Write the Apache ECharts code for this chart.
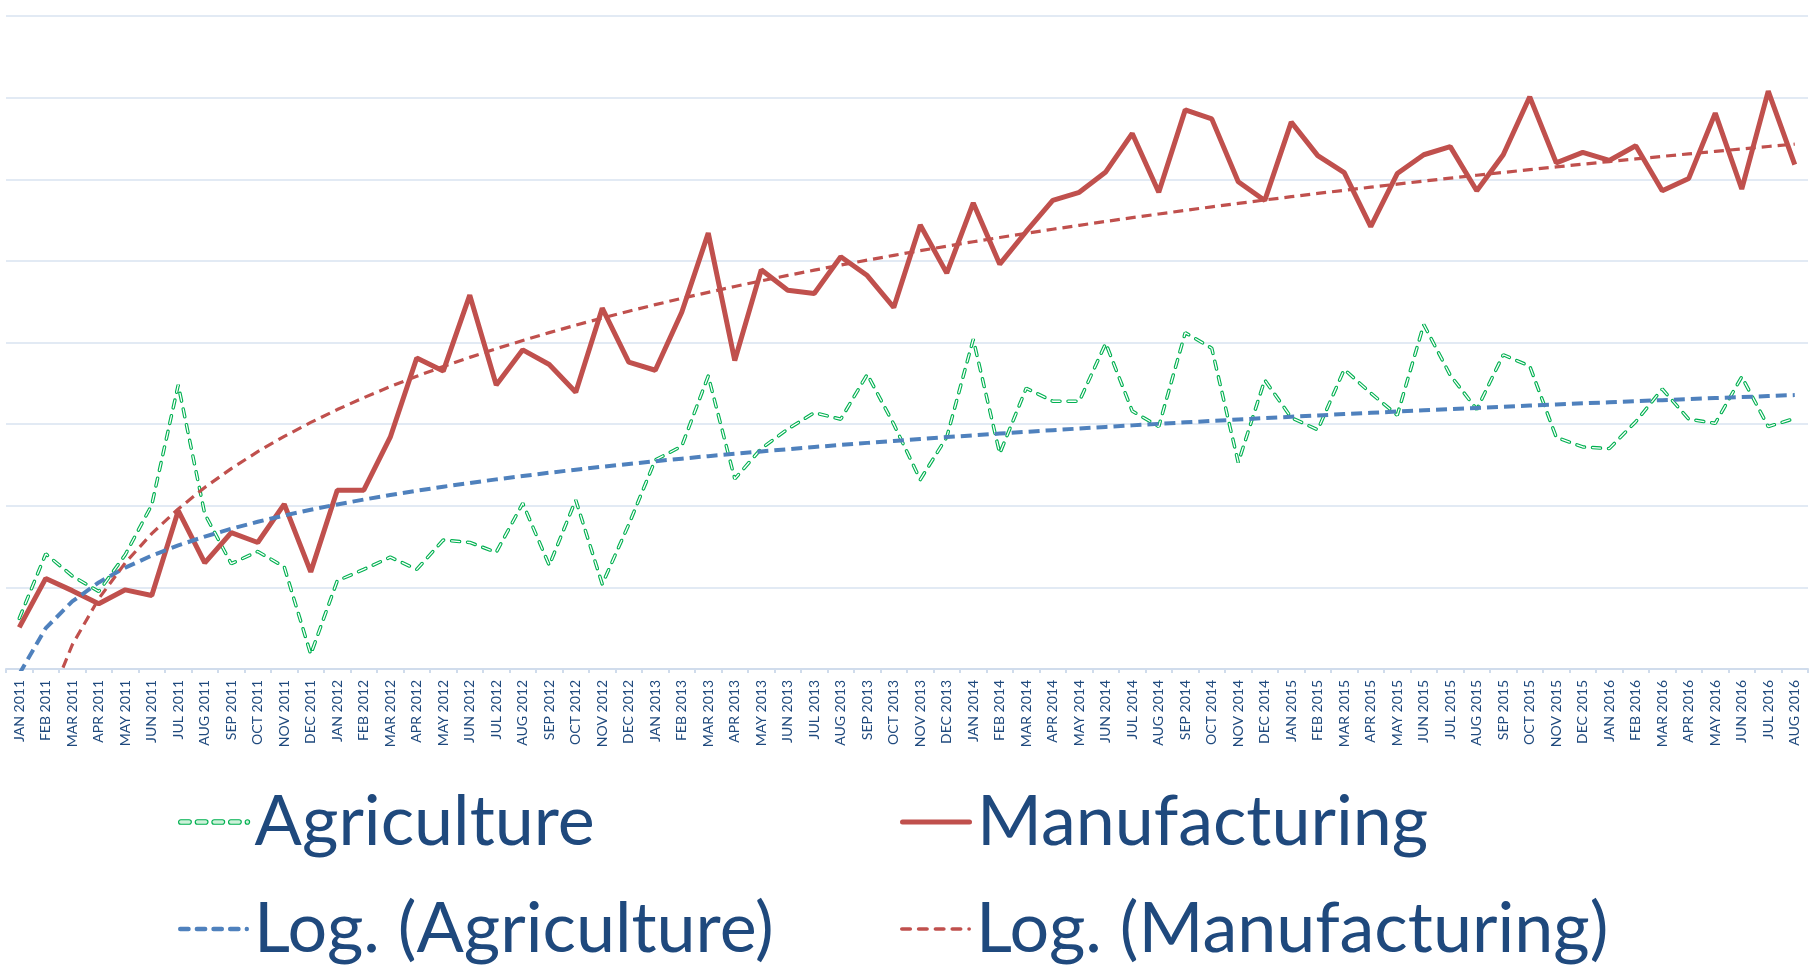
<!DOCTYPE html>
<html>
<head>
<meta charset="utf-8">
<script src="https://cdn.jsdelivr.net/npm/echarts/dist/echarts.min.js"></script>
<style>
  html, body { margin: 0; padding: 0; background: #ffffff; }
  #chart { width: 1820px; height: 966px; }
</style>
</head>
<body>
<div id="chart"></div>
<script>
// Monthly categories, Jan 2011 – Aug 2016
const months = [
  'JAN 2011','FEB 2011','MAR 2011','APR 2011','MAY 2011','JUN 2011','JUL 2011','AUG 2011','SEP 2011','OCT 2011','NOV 2011','DEC 2011',
  'JAN 2012','FEB 2012','MAR 2012','APR 2012','MAY 2012','JUN 2012','JUL 2012','AUG 2012','SEP 2012','OCT 2012','NOV 2012','DEC 2012',
  'JAN 2013','FEB 2013','MAR 2013','APR 2013','MAY 2013','JUN 2013','JUL 2013','AUG 2013','SEP 2013','OCT 2013','NOV 2013','DEC 2013',
  'JAN 2014','FEB 2014','MAR 2014','APR 2014','MAY 2014','JUN 2014','JUL 2014','AUG 2014','SEP 2014','OCT 2014','NOV 2014','DEC 2014',
  'JAN 2015','FEB 2015','MAR 2015','APR 2015','MAY 2015','JUN 2015','JUL 2015','AUG 2015','SEP 2015','OCT 2015','NOV 2015','DEC 2015',
  'JAN 2016','FEB 2016','MAR 2016','APR 2016','MAY 2016','JUN 2016','JUL 2016','AUG 2016'
];

const agriculture = [
  0.62, 1.41, 1.14, 0.95, 1.40, 2.01, 3.48, 1.90, 1.29, 1.44, 1.25, 0.18,
  1.08, 1.22, 1.37, 1.22, 1.58, 1.55, 1.43, 2.03, 1.27, 2.07, 1.04, 1.77,
  2.56, 2.73, 3.59, 2.33, 2.70, 2.94, 3.14, 3.06, 3.61, 3.00, 2.32, 2.84,
  4.04, 2.64, 3.44, 3.28, 3.28, 3.99, 3.16, 2.97, 4.12, 3.93, 2.53, 3.54,
  3.08, 2.93, 3.67, 3.38, 3.11, 4.22, 3.60, 3.18, 3.85, 3.71, 2.84, 2.72,
  2.70, 3.03, 3.43, 3.06, 3.01, 3.58, 2.97, 3.07
];

const manufacturing = [
  0.51, 1.11, 0.96, 0.80, 0.97, 0.90, 1.94, 1.30, 1.67, 1.55, 2.02, 1.19,
  2.19, 2.19, 2.84, 3.81, 3.65, 4.58, 3.48, 3.91, 3.73, 3.39, 4.42, 3.76,
  3.66, 4.37, 5.34, 3.78, 4.89, 4.64, 4.60, 5.05, 4.82, 4.43, 5.44, 4.85,
  5.71, 4.96, 5.36, 5.74, 5.84, 6.09, 6.56, 5.84, 6.85, 6.74, 5.97, 5.74,
  6.70, 6.29, 6.08, 5.42, 6.07, 6.30, 6.40, 5.86, 6.30, 7.01, 6.20, 6.33,
  6.23, 6.41, 5.86, 6.01, 6.81, 5.88, 7.08, 6.18
];

// Logarithmic trendline: least-squares fit of y = a·ln(x) + b with x = 1..n
function logTrend(values) {
  const n = values.length;
  let sx = 0, sy = 0, sxx = 0, sxy = 0;
  values.forEach((y, i) => {
    const x = Math.log(i + 1);
    sx += x; sy += y; sxx += x * x; sxy += x * y;
  });
  const a = (n * sxy - sx * sy) / (n * sxx - sx * sx);
  const b = (sy - a * sx) / n;
  return values.map((_, i) => +(a * Math.log(i + 1) + b).toFixed(4));
}

const agricultureTrend = logTrend(agriculture);
const manufacturingTrend = logTrend(manufacturing);

const GREEN = '#00B050', RED = '#C0504D', BLUE = '#4F81BD';
const NAVY = '#1F497D', GRIDC = '#D9E3F1';

// Legend key shapes: a row of rounded dashes ending in a dot, or one rounded bar
function capsule(x0, x1, h) {
  const r = h / 2;
  return `M${x0 + r},0 L${x1 - r},0 A${r},${r} 0 0 1 ${x1 - r},${h} L${x0 + r},${h} A${r},${r} 0 0 1 ${x0 + r},0 Z`;
}
function dashKey(dash, gap, count, h) {
  let d = '', x = 0;
  for (let k = 0; k < count; k++) { d += capsule(x, x + dash, h) + ' '; x += dash + gap; }
  d += capsule(x, x + h, h);
  return 'path://' + d;
}
function barKey(len, h) {
  return 'path://' + capsule(0, len, h);
}

const legendText = { fontFamily: 'Lato', fontSize: 70, color: NAVY, lineHeight: 80 };
function legendItem(name, left, top, icon, w, h, itemStyle) {
  return {
    data: [name], left: left, top: top,
    icon: icon, itemWidth: w, itemHeight: h, symbolKeepAspect: false,
    itemStyle: itemStyle,
    textStyle: legendText, selectedMode: false
  };
}

const chart = echarts.init(document.getElementById('chart'), null, { renderer: 'canvas' });
chart.setOption({
  animation: false,
  backgroundColor: '#ffffff',
  grid: { left: 6, right: 12, top: 16, bottom: 297, containLabel: false },
  xAxis: {
    type: 'category',
    data: months,
    boundaryGap: true,
    axisLine: { lineStyle: { color: '#D0DCEC', width: 2 } },
    axisTick: { show: true, length: 4, lineStyle: { color: '#D0DCEC', width: 2 } },
    axisLabel: {
      rotate: 90, interval: 0, margin: 11,
      fontFamily: 'Lato', fontSize: 14, color: NAVY
    },
    splitLine: { show: false }
  },
  yAxis: {
    type: 'value', min: 0, max: 8, interval: 1,
    axisLine: { show: false }, axisTick: { show: false }, axisLabel: { show: false },
    splitLine: { lineStyle: { color: GRIDC, width: 1.5 } }
  },
  legend: [
    legendItem('Agriculture', 173, 777, dashKey(13, 4, 4, 4.5), 71, 4.5,
      { color: '#CDF1D9', borderColor: GREEN, borderWidth: 1.2 }),
    legendItem('Log. (Agriculture)', 173, 884, dashKey(13, 4, 4, 4.5), 71, 4.5,
      { color: BLUE, borderWidth: 0 }),
    legendItem('Manufacturing', 895, 777, barKey(72, 5), 72, 5,
      { color: RED, borderWidth: 0 }),
    legendItem('Log. (Manufacturing)', 895, 884, dashKey(11.5, 4.5, 4, 3.6), 71, 3.6,
      { color: RED, borderWidth: 0 })
  ],
  series: [
    {
      name: 'Agriculture', type: 'line', data: agriculture,
      symbol: 'none', z: 2,
      lineStyle: { color: GREEN, width: 3.5, type: [8, 8], cap: 'round' },
      itemStyle: { color: GREEN }
    },
    {
      // white core inside the green dashes gives the hollow double-line look
      name: 'Agriculture core', type: 'line', data: agriculture,
      symbol: 'none', z: 3, silent: true,
      lineStyle: { color: '#ffffff', width: 1.3, type: [8, 8], cap: 'round' }
    },
    {
      name: 'Manufacturing', type: 'line', data: manufacturing,
      symbol: 'none', z: 4,
      lineStyle: { color: RED, width: 5 },
      itemStyle: { color: RED }
    },
    {
      name: 'Log. (Agriculture)', type: 'line', data: agricultureTrend,
      symbol: 'none', z: 5,
      lineStyle: { color: BLUE, width: 4, type: [11, 6] },
      itemStyle: { color: BLUE }
    },
    {
      name: 'Log. (Manufacturing)', type: 'line', data: manufacturingTrend,
      symbol: 'none', z: 5,
      lineStyle: { color: RED, width: 3.2, type: [10, 6] },
      itemStyle: { color: RED }
    }
  ]
});
</script>
</body>
</html>
